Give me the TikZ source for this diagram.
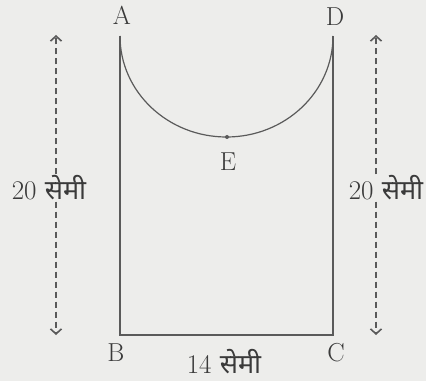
\documentclass[tikz,border=0pt]{standalone}
\usepackage{fontspec}
\newfontfamily\devfont[Script=Devanagari]{Noto Sans}
\usetikzlibrary{arrows.meta,backgrounds}
\definecolor{bgc}{HTML}{EDEDEB}
\definecolor{linec}{HTML}{5A5A5A}
\definecolor{txtc}{HTML}{3A3A3A}
\begin{document}
\begin{tikzpicture}[x=1pt,y=1pt,
  lbl/.style={text=txtc,font=\fontsize{26}{30}\selectfont,inner sep=1pt},
  dimlbl/.style={text=txtc,font=\fontsize{27}{30}\selectfont,inner sep=1pt,fill=bgc},
  outline/.style={draw=linec,line width=1.2pt},
  dimarrow/.style={draw=linec,line width=1.6pt,dash pattern=on 6pt off 4pt,-{Straight Barb[length=5pt,width=11pt,line width=1.6pt]}}]
\useasboundingbox (0,0) rectangle (426,381);
% corners
\coordinate (a) at (120,345);
\coordinate (d) at (333,345);
\coordinate (b) at (120,46);
\coordinate (c) at (333,46);
\coordinate (e) at (227,244);
% shape
\draw[outline] (a) -- (b) -- (c) -- (d);
\draw[outline] (a) arc[start angle=180,end angle=360,x radius=106.5,y radius=101];
\fill[linec] (e) circle[radius=2];
% labels
\node[lbl] (la) at (122,366) {A};
\node[lbl] (ld) at (335,364) {D};
\node[lbl] (lb) at (116,28) {B};
\node[lbl] (lc) at (336,28) {C};
\node[lbl] (le) at (228,219) {E};
\node[dimlbl] (wl) at (224,19) {14 {\devfont सेमी}};
\node[dimlbl] (hl) at (49,193) {20 {\devfont सेमी}};
\node[dimlbl] (hr) at (386,193) {20 {\devfont सेमी}};
% dimension arrows
\coordinate (lt) at (56,346);
\coordinate (lbt) at (56,46);
\coordinate (rt) at (376,346);
\coordinate (rbt) at (376,46);
\begin{scope}[on background layer]
\fill[bgc] (0,0) rectangle (426,381);
\draw[dimarrow] (lt |- hl.north) -- (lt);
\draw[dimarrow] (lbt |- hl.south) -- (lbt);
\draw[dimarrow] (rt |- hr.north) -- (rt);
\draw[dimarrow] (rbt |- hr.south) -- (rbt);
\end{scope}
\end{tikzpicture}
\end{document}
